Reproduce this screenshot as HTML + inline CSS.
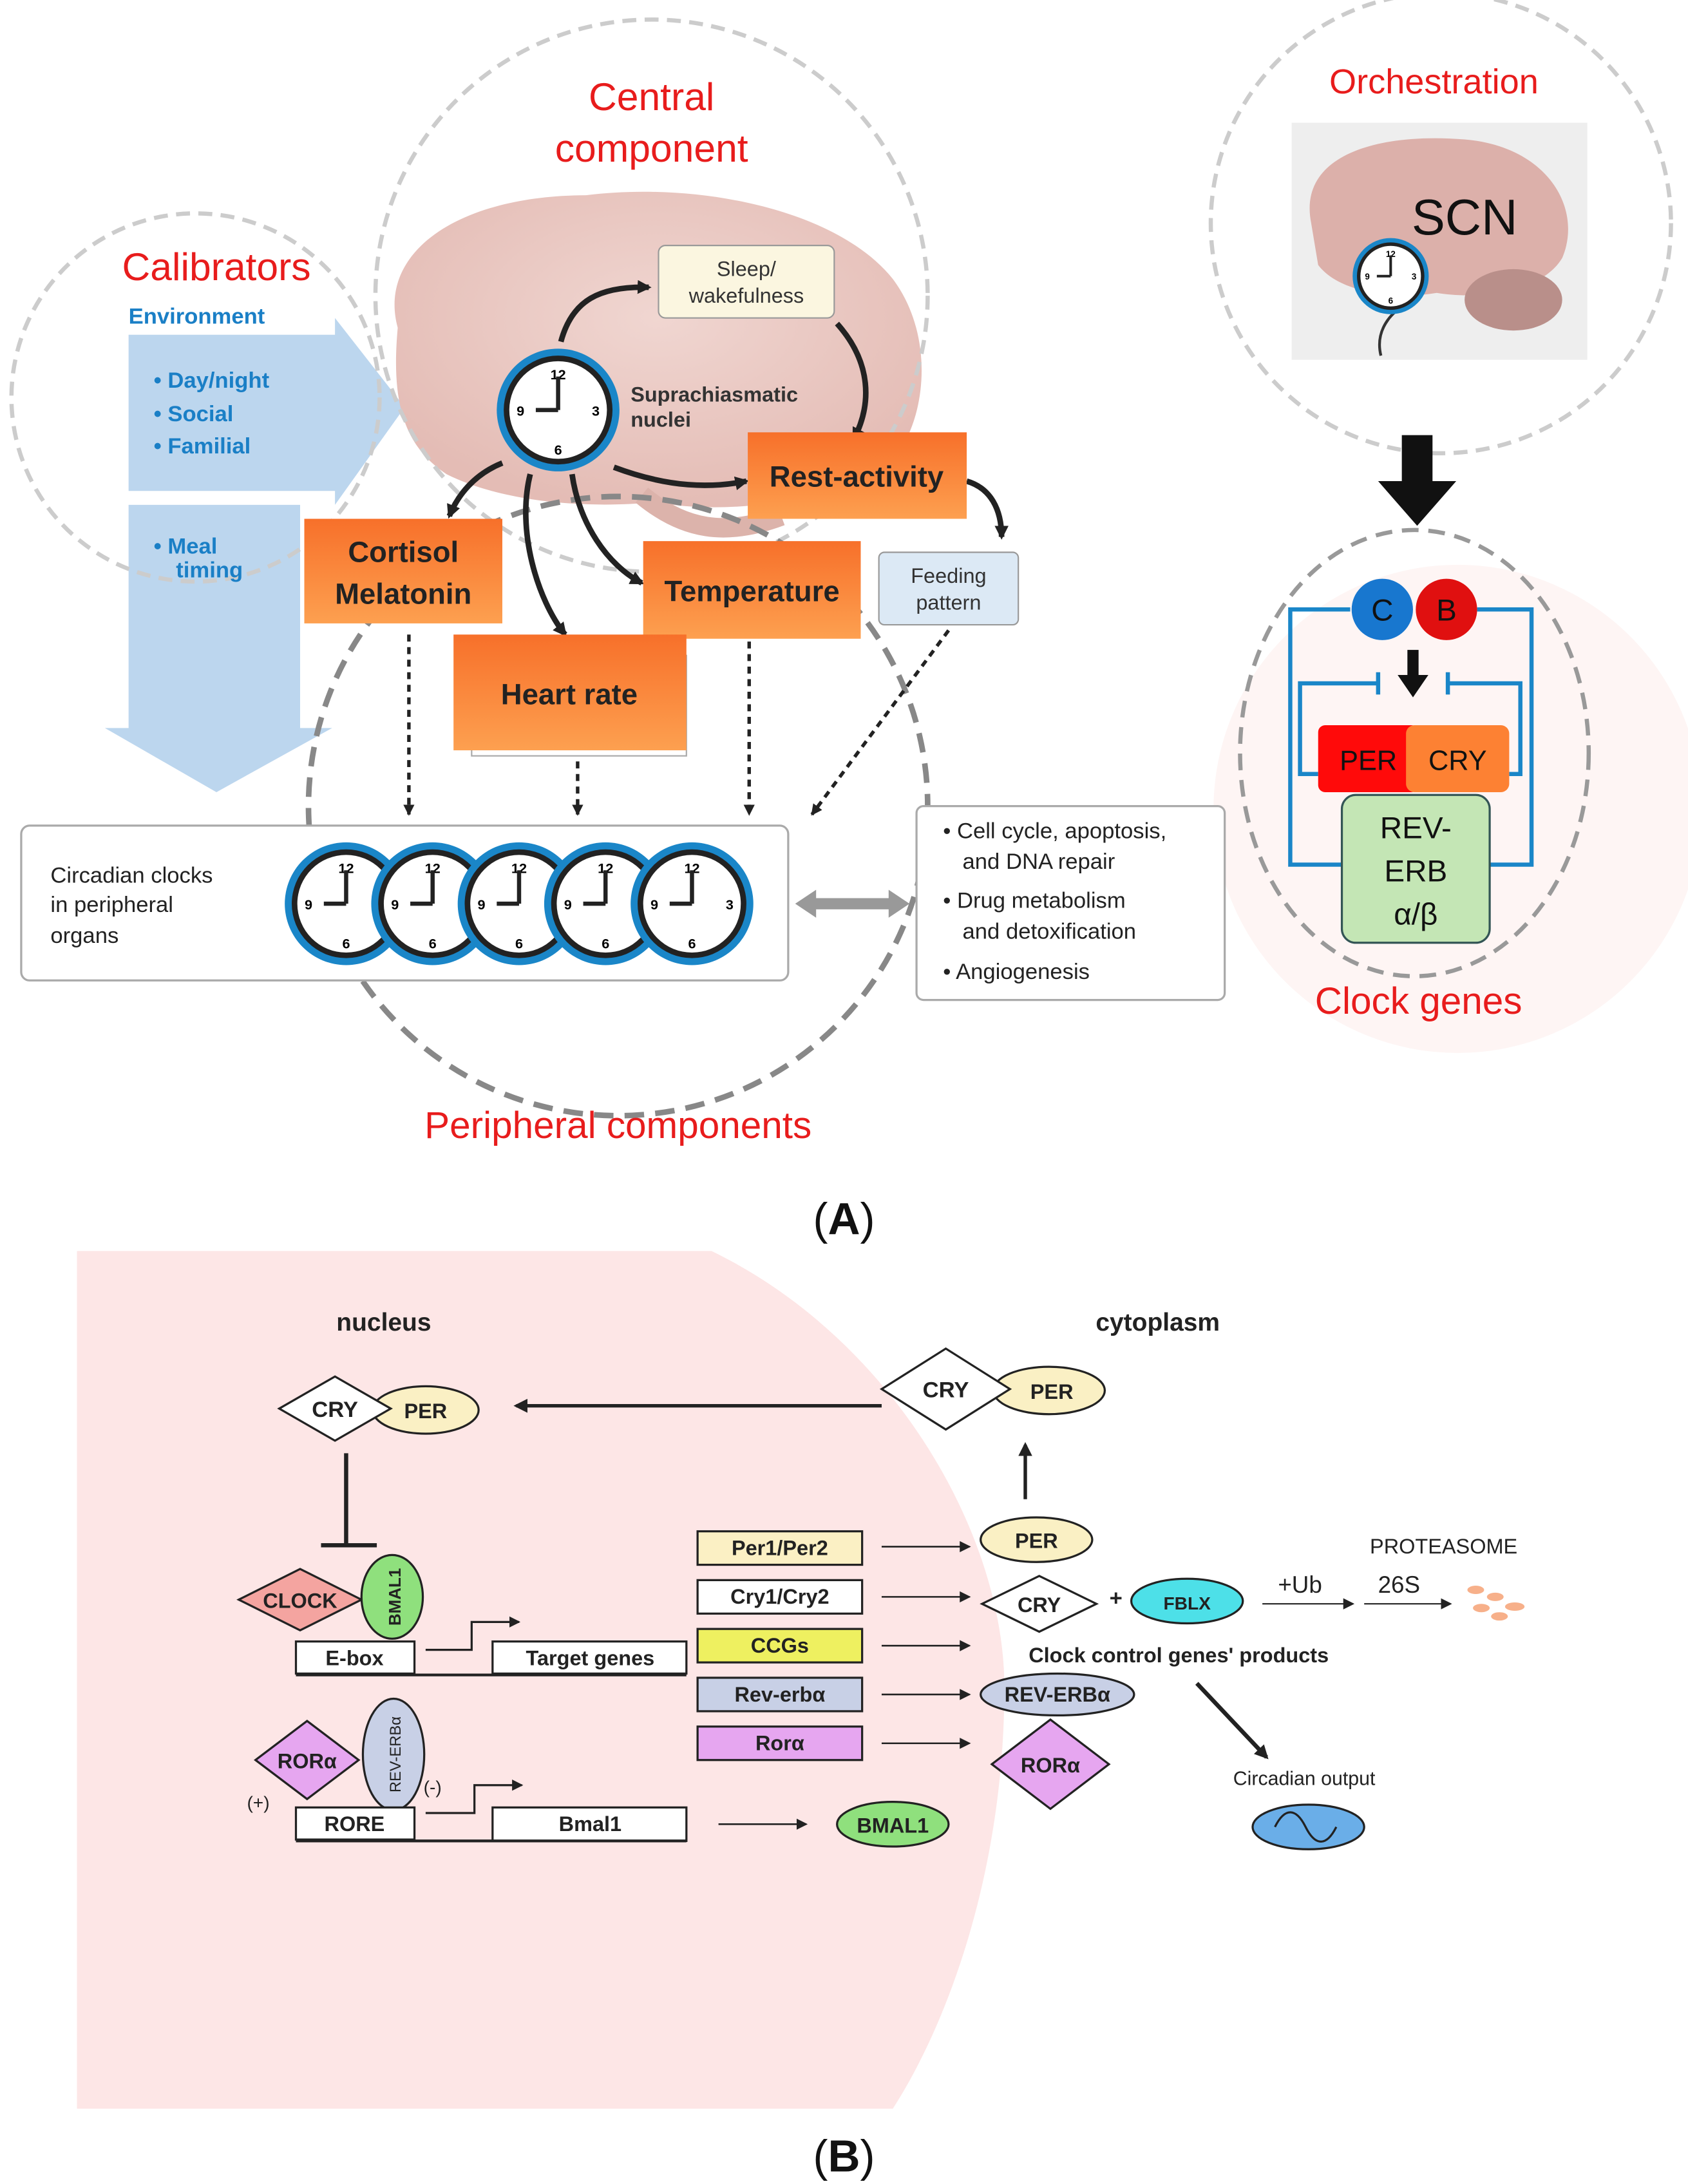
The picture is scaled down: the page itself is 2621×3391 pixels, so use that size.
<!DOCTYPE html>
<html><head><meta charset="utf-8"><style>
html,body{margin:0;padding:0;background:#fff;}
svg{display:block;}
text{font-family:"Liberation Sans",sans-serif;}
</style></head><body>
<svg width="2621" height="3391" viewBox="0 0 1210 1566" xmlns="http://www.w3.org/2000/svg">
<defs>
<linearGradient id="og" x1="0" y1="0" x2="0" y2="1"><stop offset="0" stop-color="#f7702a"/><stop offset="1" stop-color="#fda050"/></linearGradient>
<radialGradient id="bg" cx="0.5" cy="0.4" r="0.6"><stop offset="0" stop-color="#f0d6d1"/><stop offset="1" stop-color="#e4bcb5"/></radialGradient>
<marker id="ah" markerWidth="10" markerHeight="10" refX="8" refY="5" orient="auto" markerUnits="userSpaceOnUse"><path d="M0,0 L10,5 L0,10 z" fill="#222"/></marker>
<marker id="ahs" markerWidth="8" markerHeight="8" refX="7" refY="4" orient="auto" markerUnits="userSpaceOnUse"><path d="M0,0 L8,4 L0,8 z" fill="#222"/></marker>
<g id="clk"><circle r="44" fill="#1a86c8"/><circle r="39" fill="#222"/><circle r="35" fill="#fff"/>
<text y="-22" font-size="10" text-anchor="middle" font-weight="bold">12</text><text x="27" y="4" font-size="10" text-anchor="middle" font-weight="bold">3</text><text y="32" font-size="10" text-anchor="middle" font-weight="bold">6</text><text x="-27" y="4" font-size="10" text-anchor="middle" font-weight="bold">9</text>
<line x1="0" y1="0" x2="0" y2="-24" stroke="#222" stroke-width="3"/><line x1="0" y1="0" x2="-16" y2="0" stroke="#222" stroke-width="3"/></g>
</defs>

<circle cx="1045" cy="580" r="175" fill="#fef5f4"/>
<polygon points="92,240 240,240 240,228 290,292 240,362 240,352 92,352" fill="#bcd6ee"/>
<polygon points="92,362 215,362 215,522 238,522 155,568 75,522 92,522" fill="#bcd6ee"/>

<path d="M285,235 C270,180 330,140 420,140 C500,130 600,150 640,200 C670,240 665,300 640,330 C600,360 520,370 470,360 C420,365 360,360 320,340 C290,320 280,290 285,235 z" fill="url(#bg)"/>
<path d="M460,355 C490,380 520,385 560,370" stroke="#dcb3ab" stroke-width="14" fill="none"/>

<circle cx="140" cy="285" r="132" fill="none" stroke="#ccc" stroke-width="3" stroke-dasharray="10,6"/>
<circle cx="467" cy="212" r="198" fill="none" stroke="#ccc" stroke-width="3" stroke-dasharray="10,6"/>
<circle cx="443" cy="578" r="222" fill="none" stroke="#888" stroke-width="4" stroke-dasharray="14,8"/>
<circle cx="1033" cy="160" r="165" fill="none" stroke="#ccc" stroke-width="3" stroke-dasharray="10,6"/>
<ellipse cx="1014" cy="540" rx="125" ry="160" fill="none" stroke="#999" stroke-width="3" stroke-dasharray="12,7"/>

<g fill="#e81c1c" font-size="28" text-anchor="middle">
<text x="467" y="79">Central</text><text x="467" y="116">component</text>
<text x="155" y="201">Calibrators</text>
<text x="1028" y="67" font-size="25">Orchestration</text>
<text x="1017" y="727" font-size="27">Clock genes</text>
<text x="443" y="816" font-size="27">Peripheral components</text>
</g>
<g fill="#1a7fc6" font-weight="bold" font-size="16">
<text x="92" y="232">Environment</text>
<text x="110" y="278">• Day/night</text><text x="110" y="302">• Social</text><text x="110" y="325">• Familial</text>
<text x="110" y="397">• Meal</text><text x="126" y="414">timing</text>
</g>

<rect x="472" y="176" width="126" height="52" rx="5" fill="#fbf6e0" stroke="#999"/>
<text x="535" y="198" font-size="15" text-anchor="middle" fill="#333">Sleep/</text>
<text x="535" y="217" font-size="15" text-anchor="middle" fill="#333">wakefulness</text>
<path d="M402,245 C410,215 430,205 465,206" stroke="#222" stroke-width="4" fill="none" marker-end="url(#ah)"/>
<path d="M600,232 C625,260 625,290 612,315" stroke="#222" stroke-width="4" fill="none" marker-end="url(#ah)"/>
<use href="#clk" x="400" y="294"/>
<text x="452" y="288" font-size="15" font-weight="bold" fill="#333">Suprachiasmatic</text>
<text x="452" y="306" font-size="15" font-weight="bold" fill="#333">nuclei</text>
<path d="M360,332 C340,340 328,355 322,370" stroke="#222" stroke-width="4" fill="none" marker-end="url(#ah)"/>
<path d="M380,340 C370,380 385,430 405,455" stroke="#222" stroke-width="4" fill="none" marker-end="url(#ah)"/>
<path d="M410,340 C415,375 435,405 460,418" stroke="#222" stroke-width="4" fill="none" marker-end="url(#ah)"/>
<path d="M440,335 C480,350 510,350 535,345" stroke="#222" stroke-width="4" fill="none" marker-end="url(#ah)"/>
<path d="M693,345 C710,350 718,365 718,385" stroke="#222" stroke-width="4" fill="none" marker-end="url(#ah)"/>

<g font-weight="bold" fill="#222" text-anchor="middle">
<rect x="536" y="310" width="157" height="62" fill="url(#og)"/><text x="614" y="349" font-size="21">Rest-activity</text>
<rect x="218" y="372" width="142" height="75" fill="url(#og)"/><text x="289" y="403" font-size="21">Cortisol</text><text x="289" y="433" font-size="21">Melatonin</text>
<rect x="461" y="388" width="156" height="70" fill="url(#og)"/><text x="539" y="431" font-size="21">Temperature</text>
<rect x="338" y="470" width="154" height="72" fill="#fff" stroke="#aaa"/>
<rect x="325" y="455" width="167" height="83" fill="url(#og)"/><text x="408" y="505" font-size="21">Heart rate</text>
</g>
<rect x="630" y="396" width="100" height="52" rx="4" fill="#dce9f5" stroke="#999"/>
<text x="680" y="418" font-size="15" text-anchor="middle" fill="#333">Feeding</text>
<text x="680" y="437" font-size="15" text-anchor="middle" fill="#333">pattern</text>

<g stroke="#222" stroke-width="2.5" stroke-dasharray="5,4" fill="none">
<line x1="293" y1="455" x2="293" y2="584" marker-end="url(#ahs)"/>
<line x1="414" y1="546" x2="414" y2="584" marker-end="url(#ahs)"/>
<line x1="537" y1="460" x2="537" y2="584" marker-end="url(#ahs)"/>
<line x1="680" y1="452" x2="582" y2="584" marker-end="url(#ahs)"/>
</g>

<rect x="15" y="592" width="550" height="111" rx="6" fill="#fff" stroke="#aaa" stroke-width="1.5"/>
<text x="36" y="633" font-size="16" fill="#222">Circadian clocks</text>
<text x="36" y="654" font-size="16" fill="#222">in peripheral</text>
<text x="36" y="676" font-size="16" fill="#222">organs</text>
<use href="#clk" x="248" y="648"/><use href="#clk" x="310" y="648"/><use href="#clk" x="372" y="648"/><use href="#clk" x="434" y="648"/><use href="#clk" x="496" y="648"/>
<polygon points="570,648 585,638 585,644 637,644 637,638 652,648 637,658 637,652 585,652 585,658" fill="#999"/>
<rect x="657" y="578" width="221" height="139" rx="5" fill="#fff" stroke="#aaa" stroke-width="1.5"/>
<g font-size="16" fill="#222">
<text x="676" y="601">• Cell cycle, apoptosis,</text><text x="690" y="623">and DNA repair</text>
<text x="676" y="651">• Drug metabolism</text><text x="690" y="673">and detoxification</text>
<text x="676" y="702">• Angiogenesis</text>
</g>

<rect x="926" y="88" width="212" height="170" fill="#eeeeee"/>
<path d="M940,160 C930,110 990,95 1050,100 C1110,105 1135,150 1120,185 C1105,210 1060,215 1030,210 C1000,215 960,210 945,190 z" fill="#dcb0aa"/>
<ellipse cx="1085" cy="215" rx="35" ry="22" fill="#b98f8a"/>
<path d="M990,255 C985,235 1000,220 1015,215" stroke="#333" stroke-width="2" fill="none"/>
<text x="1050" y="168" font-size="36" text-anchor="middle" fill="#111">SCN</text>
<g transform="translate(997,198) scale(0.62)"><use href="#clk"/></g>
<rect x="1005" y="312" width="22" height="35" fill="#111"/>
<polygon points="988,345 1044,345 1016,377" fill="#111"/>

<g stroke="#1a86c8" stroke-width="3" fill="none">
<polyline points="968,437 925,437 925,620 962,620"/>
<polyline points="1059,437 1098,437 1098,620 1068,620"/>
<polyline points="945,555 932,555 932,490 988,490"/><line x1="988" y1="482" x2="988" y2="498"/>
<polyline points="1082,555 1090,555 1090,490 1038,490"/><line x1="1038" y1="482" x2="1038" y2="498"/>
</g>
<circle cx="991" cy="437" r="22" fill="#1877cf"/><circle cx="1037" cy="437" r="22" fill="#e01010"/>
<text x="991" y="445" font-size="22" text-anchor="middle" fill="#111">C</text>
<text x="1037" y="445" font-size="22" text-anchor="middle" fill="#111">B</text>
<rect x="1009" y="466" width="8" height="20" fill="#111"/><polygon points="1002,484 1024,484 1013,500" fill="#111"/>
<rect x="945" y="520" width="72" height="48" rx="5" fill="#ff0a0a"/>
<rect x="1008" y="520" width="74" height="48" rx="6" fill="#fd8133"/>
<text x="981" y="552" font-size="20" text-anchor="middle" fill="#111">PER</text>
<text x="1045" y="552" font-size="20" text-anchor="middle" fill="#111">CRY</text>
<rect x="962" y="570" width="106" height="106" rx="10" fill="#c4e6b5" stroke="#355" stroke-width="1.5"/>
<g font-size="22" text-anchor="middle" fill="#111"><text x="1015" y="601">REV-</text><text x="1015" y="632">ERB</text><text x="1015" y="663">α/β</text></g>

<text x="605" y="885" font-size="32" text-anchor="middle" font-family="Liberation Serif" fill="#111">(<tspan font-weight="bold">A</tspan>)</text>

<path d="M55,897 L510,897 C640,960 720,1100 720,1210 C720,1340 680,1450 640,1512 L55,1512 z" fill="#fde6e6"/>
<text x="275" y="954" font-size="18" font-weight="bold" text-anchor="middle" fill="#222">nucleus</text>
<text x="830" y="954" font-size="18" font-weight="bold" text-anchor="middle" fill="#222">cytoplasm</text>

<g stroke="#222" stroke-width="1.5">
<ellipse cx="305" cy="1011" rx="38" ry="17" fill="#faf0c4"/>
<polygon points="200,1010 240,987 280,1010 240,1033" fill="#fff"/>
<ellipse cx="752" cy="997" rx="40" ry="17" fill="#faf0c4"/>
<polygon points="632,996 678,967 724,996 678,1025" fill="#fff"/>
</g>
<g font-weight="bold" fill="#222" text-anchor="middle">
<text x="240" y="1016" font-size="16">CRY</text><text x="305" y="1017" font-size="15">PER</text>
<text x="678" y="1002" font-size="16">CRY</text><text x="754" y="1003" font-size="15">PER</text>
</g>
<line x1="632" y1="1008" x2="370" y2="1008" stroke="#222" stroke-width="2.5" marker-end="url(#ah)"/>
<line x1="735" y1="1075" x2="735" y2="1036" stroke="#222" stroke-width="2.5" marker-end="url(#ah)"/>
<line x1="248" y1="1042" x2="248" y2="1108" stroke="#222" stroke-width="3"/>
<line x1="230" y1="1108" x2="270" y2="1108" stroke="#222" stroke-width="3"/>

<g stroke="#222" stroke-width="1.5">
<polygon points="171,1147 215,1125 259,1147 215,1169" fill="#f4a4a0"/>
<ellipse cx="281" cy="1145" rx="22" ry="30" fill="#8fe07d"/>
<polygon points="183,1262 220,1234 257,1262 220,1290" fill="#e6a6f0"/>
<ellipse cx="282" cy="1258" rx="22" ry="40" fill="#c8d0e6"/>
<rect x="212" y="1177" width="85" height="23" fill="#fff"/>
<rect x="353" y="1177" width="139" height="23" fill="#fff"/>
<rect x="212" y="1296" width="85" height="23" fill="#fff"/>
<rect x="353" y="1296" width="139" height="24" fill="#fff"/>
</g>
<line x1="212" y1="1201" x2="492" y2="1201" stroke="#222" stroke-width="2"/>
<line x1="212" y1="1320" x2="492" y2="1320" stroke="#222" stroke-width="2"/>
<g font-weight="bold" fill="#222" text-anchor="middle" font-size="15">
<text x="215" y="1153">CLOCK</text>
<text x="220" y="1268">RORα</text>
<text x="254" y="1194">E-box</text><text x="423" y="1194">Target genes</text>
<text x="254" y="1313">RORE</text><text x="423" y="1313">Bmal1</text>
<text transform="translate(287,1145) rotate(-90)" font-size="12">BMAL1</text>
<text transform="translate(287,1258) rotate(-90)" font-size="11" font-weight="normal">REV-ERBα</text>
</g>
<text x="185" y="1297" font-size="13" text-anchor="middle" fill="#222">(+)</text>
<text x="310" y="1286" font-size="13" text-anchor="middle" fill="#222">(-)</text>
<polyline points="305,1183 338,1183 338,1163 372,1163" stroke="#222" stroke-width="1.5" fill="none" marker-end="url(#ahs)"/>
<polyline points="305,1300 340,1300 340,1280 374,1280" stroke="#222" stroke-width="1.5" fill="none" marker-end="url(#ahs)"/>
<line x1="515" y1="1308" x2="578" y2="1308" stroke="#222" stroke-width="1.2" marker-end="url(#ahs)"/>
<ellipse cx="640" cy="1308" rx="40" ry="16" fill="#8fe07d" stroke="#222" stroke-width="1.5"/>
<text x="640" y="1314" font-size="15" font-weight="bold" text-anchor="middle" fill="#222">BMAL1</text>

<g stroke="#222" stroke-width="1.5">
<rect x="500" y="1098" width="118" height="24" fill="#fbf0c4"/>
<rect x="500" y="1133" width="118" height="24" fill="#fff"/>
<rect x="500" y="1168" width="118" height="24" fill="#eef060"/>
<rect x="500" y="1203" width="118" height="24" fill="#c8d0e6"/>
<rect x="500" y="1238" width="118" height="24" fill="#e6a6f0"/>
</g>
<g font-weight="bold" fill="#222" text-anchor="middle" font-size="15">
<text x="559" y="1115">Per1/Per2</text><text x="559" y="1150">Cry1/Cry2</text><text x="559" y="1185">CCGs</text><text x="559" y="1220">Rev-erbα</text><text x="559" y="1255">Rorα</text>
</g>
<g stroke="#222" stroke-width="1.2" marker-end="url(#ahs)">
<line x1="632" y1="1109" x2="695" y2="1109"/><line x1="632" y1="1145" x2="695" y2="1145"/><line x1="632" y1="1180" x2="695" y2="1180"/><line x1="632" y1="1215" x2="695" y2="1215"/><line x1="632" y1="1250" x2="695" y2="1250"/>
</g>
<g stroke="#222" stroke-width="1.5">
<ellipse cx="743" cy="1104" rx="40" ry="16" fill="#faf0c4"/>
<polygon points="704,1150 745,1130 786,1150 745,1170" fill="#fff"/>
<ellipse cx="851" cy="1148" rx="40" ry="16" fill="#4de0e8"/>
<ellipse cx="758" cy="1215" rx="55" ry="15" fill="#c8d0e6"/>
<polygon points="711,1265 753,1233 795,1265 753,1297" fill="#e6a6f0"/>
<ellipse cx="938" cy="1310" rx="40" ry="16" fill="#6aaee8"/>
</g>
<path d="M914,1310 C921,1296 929,1296 936,1310 C943,1324 951,1324 958,1310" stroke="#222" stroke-width="1.5" fill="none"/>
<g font-weight="bold" fill="#222" text-anchor="middle" font-size="15">
<text x="743" y="1110">PER</text><text x="745" y="1156">CRY</text><text x="800" y="1151" font-size="16">+</text><text x="851" y="1154" font-size="13">FBLX</text>
<text x="845" y="1192">Clock control genes' products</text>
<text x="758" y="1220">REV-ERBα</text><text x="753" y="1271">RORα</text>
</g>
<g fill="#222" text-anchor="middle" font-size="16">
<text x="932" y="1142" font-size="17">+Ub</text><text x="1003" y="1142" font-size="17">26S</text><text x="1035" y="1114" font-size="15">PROTEASOME</text>
<text x="935" y="1280" font-size="14">Circadian output</text>
</g>
<line x1="905" y1="1150" x2="970" y2="1150" stroke="#222" stroke-width="1" marker-end="url(#ahs)"/>
<line x1="978" y1="1150" x2="1040" y2="1150" stroke="#222" stroke-width="1" marker-end="url(#ahs)"/>
<g fill="#f7b08a"><ellipse cx="1058" cy="1140" rx="6" ry="3"/><ellipse cx="1072" cy="1145" rx="6" ry="3"/><ellipse cx="1086" cy="1152" rx="7" ry="3"/><ellipse cx="1062" cy="1153" rx="6" ry="3"/><ellipse cx="1075" cy="1159" rx="6" ry="3"/></g>
<line x1="858" y1="1207" x2="908" y2="1260" stroke="#222" stroke-width="3" marker-end="url(#ah)"/>

<text x="605" y="1557" font-size="32" text-anchor="middle" font-family="Liberation Serif" fill="#111">(<tspan font-weight="bold">B</tspan>)</text>
</svg>
</body></html>
